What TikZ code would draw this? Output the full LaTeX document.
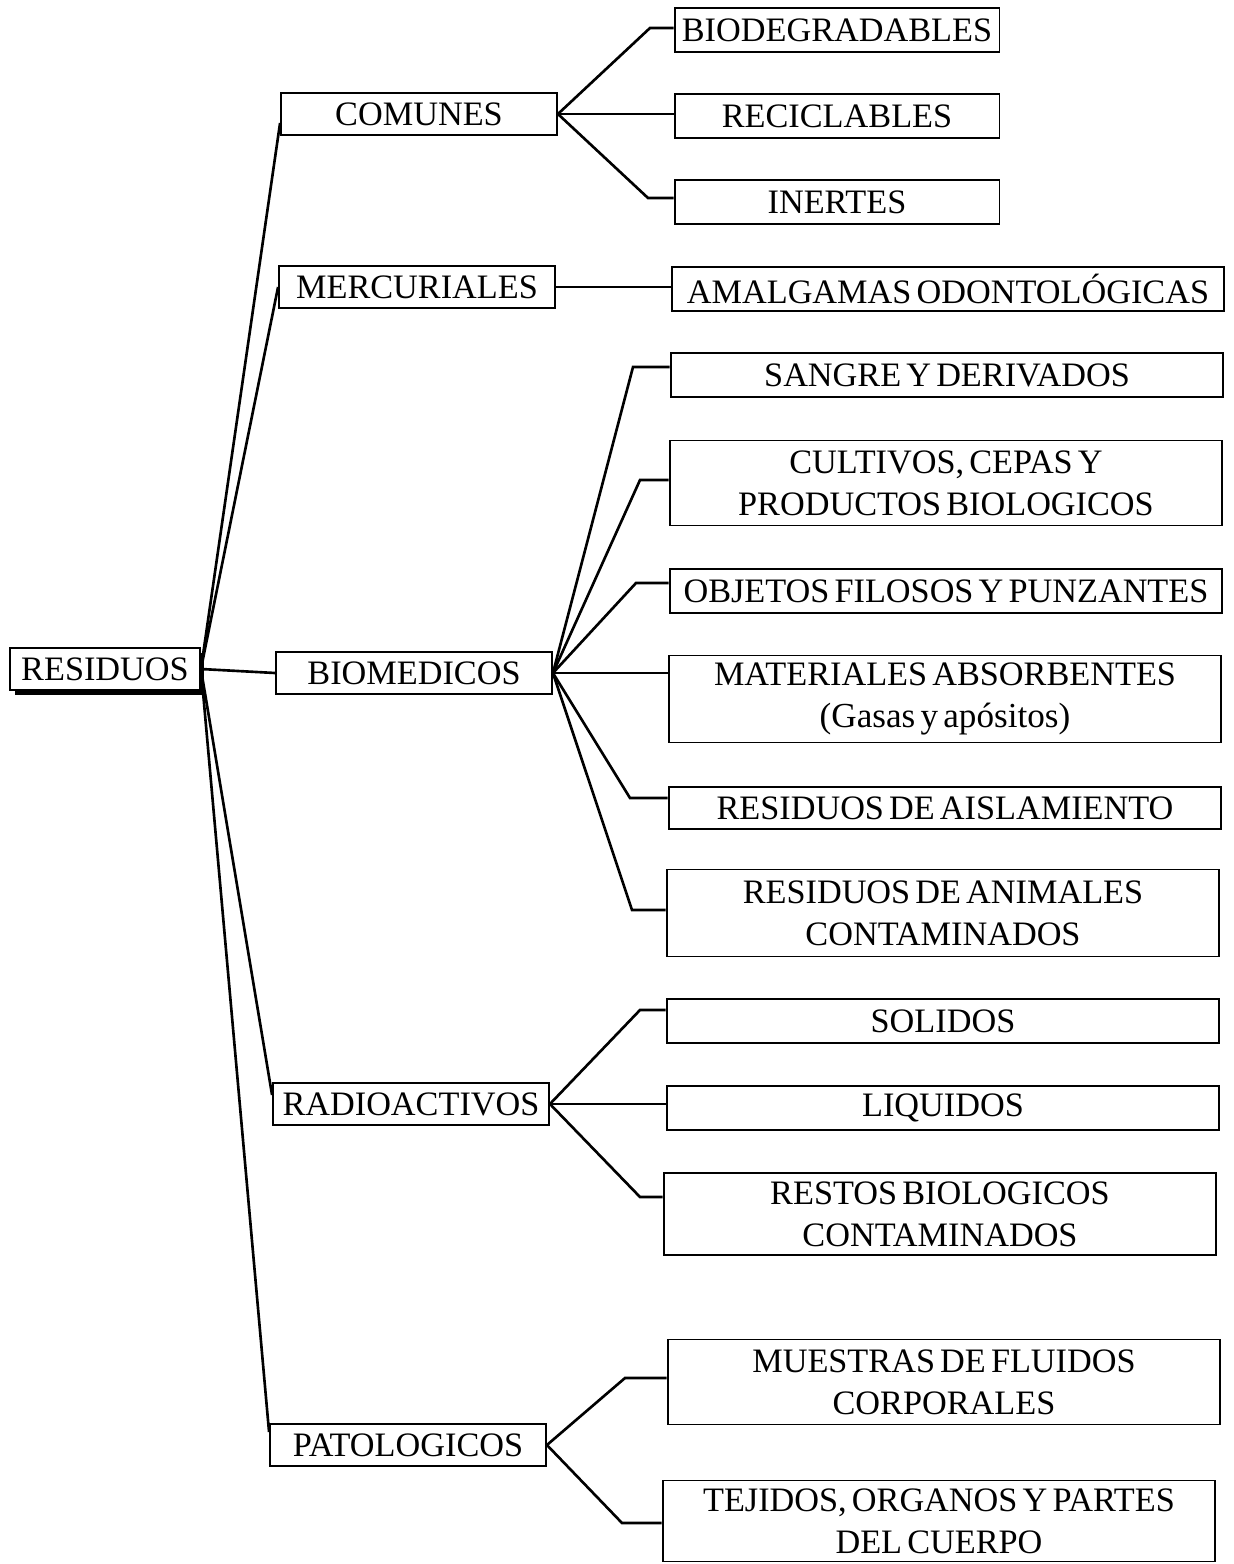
\documentclass[tikz,border=0pt]{standalone}
\usepackage{fontspec}
\setmainfont{Liberation Serif}[WordSpace=0.6]
\usetikzlibrary{positioning,shadows}

\begin{document}
\begin{tikzpicture}[x=0.02cm,y=-0.02cm,
        raiz/.style={draw,line width=1.1pt,fill=white,inner sep=0pt,
                     font=\fontsize{19.5}{24}\selectfont,
                     minimum width=3.8cm,minimum height=0.84cm,
                     drop shadow={shadow xshift=0.09cm,shadow yshift=-0.09cm,
                                  fill=black,opacity=1}},
        cat/.style={draw,line width=1.1pt,inner sep=0pt,
                    font=\fontsize{19.5}{24}\selectfont,
                    minimum width=5.52cm,minimum height=0.84cm},
        hoja/.style={draw,line width=1.1pt,inner sep=0pt,align=center,
                     font=\fontsize{19.5}{24}\selectfont,
                     minimum width=11.06cm,minimum height=0.88cm},
        alta/.style={hoja,minimum height=1.7cm},
        ln/.style={line width=1.5pt}
      ]
        \useasboundingbox (0,0) rectangle (1233,1564);
        % raiz y categorias
        \node[raiz] (res) at (105,669) {RESIDUOS};
        \node[cat] (com) at (419,114) {COMUNES};
        \node[cat] (mer) at (417,287) {MERCURIALES};
        \node[cat] (bio) at (414,673) {BIOMEDICOS};
        \node[cat] (rad) at (411,1104) {RADIOACTIVOS};
        \node[cat] (pat) at (408,1445) {PATOLOGICOS};
        % hojas
        \node[hoja,minimum width=6.5cm] (biodeg) at (837,30) {BIODEGRADABLES};
        \node[hoja,minimum width=6.5cm] (recic) at (837,116) {RECICLABLES};
        \node[hoja,minimum width=6.5cm] (inert) at (837,202) {INERTES};
        \node[hoja,minimum width=11.04cm] (amalg) at (948,289) {AMALGAMAS ODONTOLÓGICAS};
        \node[hoja] (sangre) at (947,375) {SANGRE Y DERIVADOS};
        \node[alta] (cult) at (946,483) {CULTIVOS, CEPAS Y\\PRODUCTOS BIOLOGICOS};
        \node[hoja] (obj) at (946,591) {OBJETOS FILOSOS Y PUNZANTES};
        \node[alta,minimum height=1.74cm] (mat) at (945,699)
          {MATERIALES ABSORBENTES\\{\fontsize{20}{24}\selectfont(Gasas y apósitos)}};
        \node[hoja,minimum height=0.84cm] (aisl) at (945,808) {RESIDUOS DE AISLAMIENTO};
        \node[alta,minimum height=1.74cm] (anim) at (943,913) {RESIDUOS DE ANIMALES\\CONTAMINADOS};
        \node[hoja] (sol) at (943,1021) {SOLIDOS};
        \node[hoja] (liq) at (943,1108) {LIQUIDOS};
        \node[alta,minimum height=1.64cm] (rest) at (940,1214) {RESTOS BIOLOGICOS\\CONTAMINADOS};
        \node[alta] (mues) at (944,1382) {MUESTRAS DE FLUIDOS\\CORPORALES};
        \node[alta,minimum height=1.62cm] (tej) at (939,1521) {TEJIDOS, ORGANOS Y PARTES\\DEL CUERPO};
        % puntos de quiebre
        \coordinate (kbiodeg) at (650,28);
        \coordinate (kinert) at (648,198);
        \coordinate (ksangre) at (633,367);
        \coordinate (kcult) at (640,480);
        \coordinate (kobj) at (636,583);
        \coordinate (kaisl) at (630,798);
        \coordinate (kanim) at (632,910);
        \coordinate (ksol) at (640,1010);
        \coordinate (krest) at (640,1197);
        \coordinate (kmues) at (625,1378);
        \coordinate (ktej) at (622,1523);
        % residuos -> categorias
        \draw[ln] (res.east) -- ([yshift=-0.18cm]com.west);
        \draw[ln] (res.east) -- (mer.west);
        \draw[ln] (res.east) -- (bio.west);
        \draw[ln] (res.east) -- ([yshift=0.18cm]rad.west);
        \draw[ln] (res.east) -- ([yshift=0.26cm]pat.west);
        % comunes
        \draw[ln] (com.east) -- (kbiodeg) -- (kbiodeg -| biodeg.west);
        \draw[ln] (com.east) -- (com.east -| recic.west);
        \draw[ln] (com.east) -- (kinert) -- (kinert -| inert.west);
        % mercuriales
        \draw[ln] (mer.east) -- (mer.east -| amalg.west);
        % biomedicos
        \draw[ln] (bio.east) -- (ksangre) -- (ksangre -| sangre.west);
        \draw[ln] (bio.east) -- (kcult) -- (kcult -| cult.west);
        \draw[ln] (bio.east) -- (kobj) -- (kobj -| obj.west);
        \draw[ln] (bio.east) -- (bio.east -| mat.west);
        \draw[ln] (bio.east) -- (kaisl) -- (kaisl -| aisl.west);
        \draw[ln] (bio.east) -- (kanim) -- (kanim -| anim.west);
        % radioactivos
        \draw[ln] (rad.east) -- (ksol) -- (ksol -| sol.west);
        \draw[ln] (rad.east) -- (rad.east -| liq.west);
        \draw[ln] (rad.east) -- (krest) -- (krest -| rest.west);
        % patologicos
        \draw[ln] (pat.east) -- (kmues) -- (kmues -| mues.west);
        \draw[ln] (pat.east) -- (ktej) -- (ktej -| tej.west);
      \end{tikzpicture}
\end{document}
